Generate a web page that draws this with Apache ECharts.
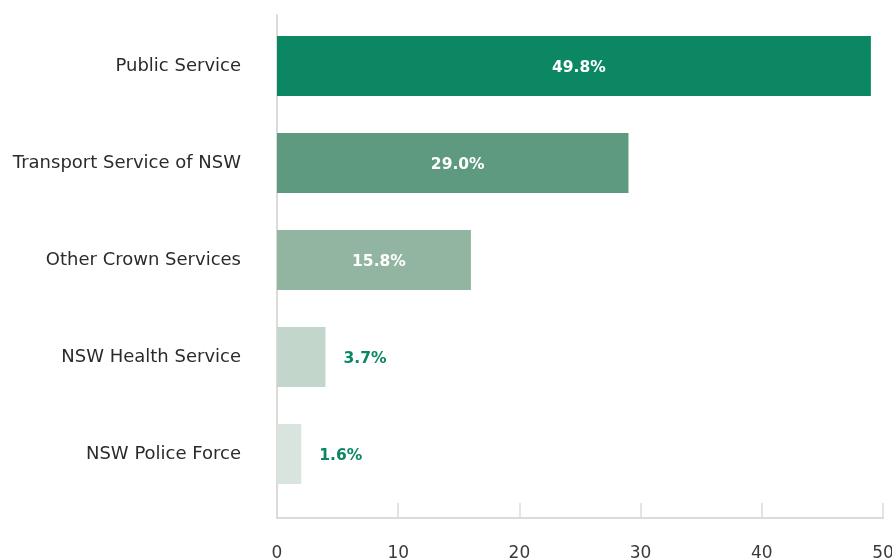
<!DOCTYPE html>
<html>
<head>
<meta charset="utf-8">
<script src="https://cdn.jsdelivr.net/npm/echarts@6/dist/echarts.min.js"></script>
<style>
html,body{margin:0;padding:0;background:#fff;}
#chart{width:892px;height:558px;}
</style>
</head>
<body>
<div id="chart"></div>
<script>
var categories = ["Public Service", "Transport Service of NSW", "Other Crown Services", "NSW Health Service", "NSW Police Force"];
var values = [49, 29, 16, 4, 2];
var labels = ["49.8%", "29.0%", "15.8%", "3.7%", "1.6%"];
var barColors = ["#0b8764", "#5e9a80", "#92b5a1", "#c3d6cb", "#d9e4de"];
var insideLabel = [true, true, true, false, false];
var xTicks = [0, 10, 20, 30, 40, 50];

var FONT = "DejaVu Sans";
var chart = echarts.init(document.getElementById('chart'), null, {renderer: 'canvas'});

var data = values.map(function (v, i) {
  return {
    value: v,
    itemStyle: {color: barColors[i]},
    label: insideLabel[i] ? {
      position: 'inside', color: '#ffffff', offset: [5, 2]
    } : {
      position: 'right', distance: 18, color: '#0b8764', offset: [0, 2]
    }
  };
});

chart.setOption({
  animation: false,
  backgroundColor: '#ffffff',
  grid: [
    {left: 277, right: 9, top: 17.5, bottom: 55.5, outerBoundsMode: 'none', containLabel: false},
    {left: 277, right: 9, top: 15, bottom: 40, outerBoundsMode: 'none', containLabel: false}
  ],
  xAxis: [
    {gridIndex: 0, type: 'value', min: xTicks[0], max: xTicks[xTicks.length - 1], interval: 10, show: false},
    {gridIndex: 1, type: 'value', min: xTicks[0], max: xTicks[xTicks.length - 1], interval: 10,
      axisLine: {show: true, lineStyle: {color: '#dedad6', width: 2}},
      axisTick: {show: true, inside: true, length: 15, lineStyle: {color: '#dedad6', width: 1.5}},
      splitLine: {show: false},
      axisLabel: {show: true, margin: 27, color: '#3a3a3a', fontFamily: FONT, fontSize: 17, hideOverlap: false}
    }
  ],
  yAxis: [
    {gridIndex: 0, type: 'category', inverse: true, data: categories,
      axisLine: {show: false}, axisTick: {show: false}, splitLine: {show: false},
      axisLabel: {margin: 36, color: '#2b2b2b', fontFamily: FONT, fontSize: 18, padding: [4, 0, 0, 0]}
    },
    {gridIndex: 1, type: 'value', min: 0, max: 1,
      axisLine: {show: true, lineStyle: {color: '#dedad6', width: 2}},
      axisTick: {show: false}, axisLabel: {show: false}, splitLine: {show: false}
    }
  ],
  series: [{
    type: 'bar',
    xAxisIndex: 0, yAxisIndex: 0,
    barWidth: 60,
    data: data,
    label: {
      show: true,
      fontFamily: FONT, fontWeight: 'bold', fontSize: 15.5,
      formatter: function (p) { return labels[p.dataIndex]; }
    }
  }]
});
</script>
</body>
</html>
